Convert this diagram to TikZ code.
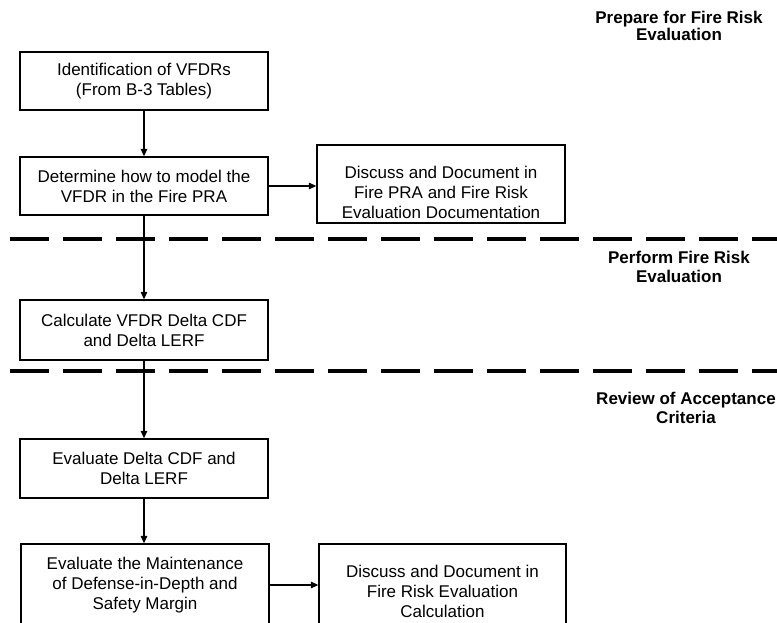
\documentclass[tikz,border=0pt]{standalone}
\usepackage{fontspec}
\setmainfont{Liberation Sans}
\usetikzlibrary{arrows.meta}
\tikzset{
  box/.style={draw=black, line width=1.3pt, fill=white, minimum width=248pt, inner sep=0pt,
    align=center, font=\fontsize{17}{20}\selectfont},
  boxtxt/.style={align=center, font=\fontsize{17}{20}\selectfont, inner sep=0pt},
  arr/.style={line width=1.2pt, -{Triangle[length=7.5pt,width=6.5pt]}},
  sepline/.style={line width=4.5pt, dash pattern=on 39pt off 14pt},
  phase/.style={align=center, inner sep=0pt, font=\bfseries\fontsize{17}{19}\selectfont}
}
\begin{document}
\begin{tikzpicture}[x=1pt,y=-1pt]
\useasboundingbox (0,0) rectangle (777,622);
\clip (0,0) rectangle (777,622);
\fill[white] (0,0) rectangle (777,622);

% separators
\draw[sepline] (10,239) -- (790,239);
\draw[sepline] (10,371) -- (790,371);

% phase labels
\node[phase, font=\bfseries\fontsize{17}{17}\selectfont] (ph1) at (679,26) {Prepare for Fire Risk\\Evaluation};
\node[phase] (ph2) at (679,266.5) {Perform Fire Risk\\Evaluation};
\node[phase] (ph3) at (686,407.5) {Review of Acceptance\\Criteria};

% boxes
\node[box, minimum height=58pt] (b1) at (144,81) {Identification of VFDRs\\(From B-3 Tables)};
\node[box, minimum height=58pt] (b2) at (144,186) {Determine how to model the\\VFDR in the Fire PRA};
\node[box, minimum height=78pt, label={[boxtxt,yshift=-8pt]center:{Discuss and Document in\\Fire PRA and Fire Risk\\Evaluation Documentation}}] (d1) at (441,184) {};
\node[box, minimum height=60pt] (b3) at (144,330) {Calculate VFDR Delta CDF\\and Delta LERF};
\node[box, minimum height=59pt] (b4) at (144,468.5) {Evaluate Delta CDF and\\Delta LERF};
\node[box, minimum height=82pt] (b5) at (145,585) {Evaluate the Maintenance\\of Defense-in-Depth and\\Safety Margin};
\node[box, minimum width=247pt, minimum height=82pt, label={[boxtxt,yshift=-6pt]center:{Discuss and Document in\\Fire Risk Evaluation\\Calculation}}] (d2) at (442.5,585) {};

% connectors
\draw[arr] (b1) -- (b2);
\draw[arr] (b2.east) -- (b2.east -| d1.west);
\draw[arr] (b2) -- (b3);
\draw[arr] (b3) -- (b4);
\draw[arr] (b4) -- (b4 |- b5.north);
\draw[arr] (b5.east) -- (d2.west);
\end{tikzpicture}
\end{document}
